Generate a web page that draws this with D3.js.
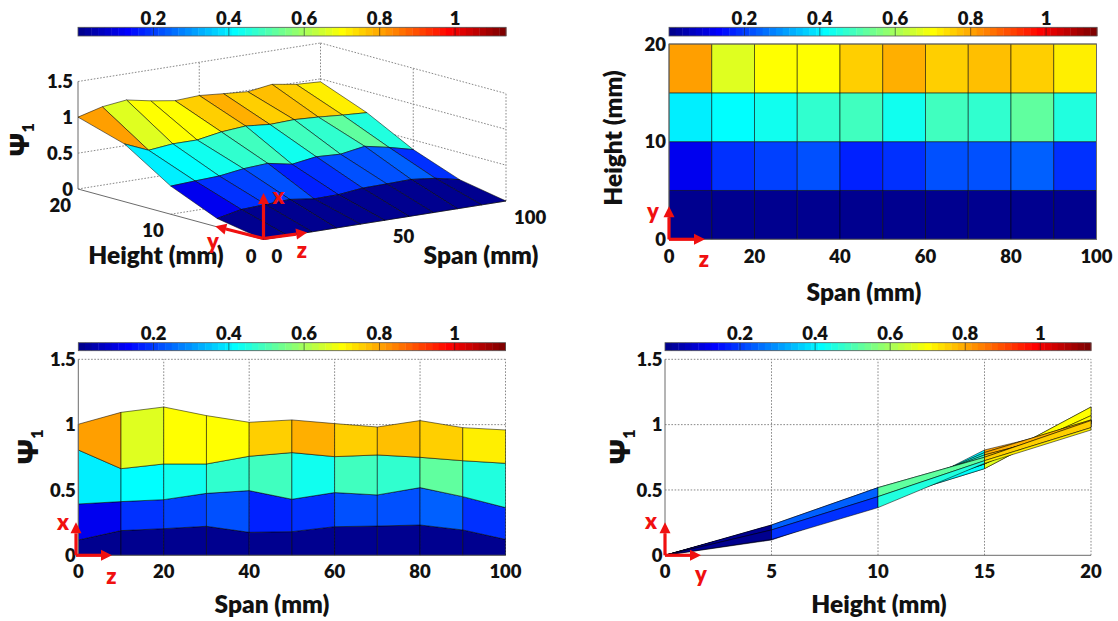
<!DOCTYPE html>
<html>
<head>
<meta charset="utf-8">
<script src="https://cdn.jsdelivr.net/npm/d3@7"></script>
<style>
  html, body { margin: 0; padding: 0; background: #fff; }
  svg text { font-family: Lato, "Open Sans", sans-serif; font-weight: 800; fill: #111; }
</style>
</head>
<body>
<svg id="fig" width="1118" height="621"></svg>
<script>
// ---- data: first mode shape Psi_1 sampled on a span x height grid ----
const spanMM   = [0, 10, 20, 30, 40, 50, 60, 70, 80, 90, 100];
const heightMM = [0, 5, 10, 15, 20];
const psiH0  = [0, 0, 0, 0, 0, 0, 0, 0, 0, 0, 0];
const psiH5  = [0.117, 0.189, 0.204, 0.222, 0.176, 0.181, 0.219, 0.224, 0.232, 0.194, 0.122];
const psiH10 = [0.393, 0.411, 0.426, 0.474, 0.495, 0.429, 0.480, 0.462, 0.518, 0.449, 0.365];
const psiH15 = [0.806, 0.663, 0.699, 0.699, 0.758, 0.786, 0.755, 0.768, 0.750, 0.724, 0.704];
const psiH20 = [1.003, 1.094, 1.135, 1.069, 1.018, 1.036, 1.008, 0.982, 1.031, 0.977, 0.959];

// tick labels
const colorbarTicks   = [0.2, 0.4, 0.6, 0.8, 1];
const psiTicks        = [0, 0.5, 1, 1.5];
const spanTicks2D     = [0, 20, 40, 60, 80, 100];
const heightTicksMap  = [0, 10, 20];
const heightTicksSide = [0, 5, 10, 15, 20];
const spanTicks3D     = [0, 50, 100];
const heightTicks3D   = [0, 10, 20];

const psiRows = [psiH0, psiH5, psiH10, psiH15, psiH20];

const svg = d3.select("#fig");
svg.append("rect").attr("width", 1118).attr("height", 621).attr("fill", "#fff");

// ---- jet(64) colour map with scaled, flat colour mapping ----
function jet64() {
  const m = 64, n = 16;
  const u = [];
  for (let i = 1; i <= n; i++) u.push(i / n);
  for (let i = 0; i < n - 1; i++) u.push(1);
  for (let i = n; i >= 1; i--) u.push(i / n);
  const J = Array.from({length: m}, () => [0, 0, 0]);
  const g0 = Math.ceil(n / 2) - (m % 4 === 1 ? 1 : 0);
  u.forEach((val, i) => {
    const g = g0 + i + 1, r = g + n, b = g - n;
    if (g >= 1 && g <= m) J[g - 1][1] = val;
    if (r >= 1 && r <= m) J[r - 1][0] = val;
    if (b >= 1 && b <= m) J[b - 1][2] = val;
  });
  return J.map(c => d3.rgb(c[0] * 255, c[1] * 255, c[2] * 255).formatHex());
}
const jet = jet64();
const allPsi = psiRows.flat();
const cMin = d3.min(allPsi), cMax = d3.max(allPsi);
function colorOf(v) {
  let k = Math.floor((v - cMin) / (cMax - cMin) * jet.length);
  k = Math.max(0, Math.min(jet.length - 1, k));
  return jet[k];
}

const GRID = "#7a7a7a", AXIS = "#6b6b6b", RED = "#f01010";
const TICK_FS = 18.5, TITLE_FS = 24.5;

// faces of the grid: face (i,j) spans heights i..i+1 and spans j..j+1
const faces = [];
for (let j = 0; j < spanMM.length - 1; j++) {
  for (let i = 0; i < heightMM.length - 1; i++) {
    faces.push({i, j, c: colorOf(psiRows[i][j])});
  }
}

// ---- colour bar ----
function colorbar(x0, x1, y0, hgt) {
  const cx = d3.scaleLinear().domain([cMin, cMax]).range([x0, x1]);
  const g = svg.append("g");
  const step = (cMax - cMin) / jet.length;
  g.selectAll("rect.cell").data(jet).join("rect")
    .attr("x", (c, k) => cx(cMin + k * step))
    .attr("width", (c, k) => cx(cMin + (k + 1) * step) - cx(cMin + k * step) + 0.4)
    .attr("y", y0).attr("height", hgt).attr("fill", c => c);
  g.selectAll("line.tk").data(colorbarTicks).join("line")
    .attr("x1", d => cx(d)).attr("x2", d => cx(d))
    .attr("y1", y0).attr("y2", y0 + hgt)
    .attr("stroke", "#222").attr("stroke-width", 0.8).attr("opacity", 0.7);
  g.append("rect").attr("x", x0).attr("y", y0).attr("width", x1 - x0).attr("height", hgt)
    .attr("fill", "none").attr("stroke", "#555").attr("stroke-width", 0.8);
  g.selectAll("text").data(colorbarTicks).join("text")
    .attr("x", d => cx(d)).attr("y", y0 - 9).attr("dy", "0.36em")
    .attr("text-anchor", "middle").attr("font-size", TICK_FS)
    .text(d => d3.format("~g")(d));
}

// ---- red coordinate-frame arrows ----
function arrow(x1, y1, x2, y2) {
  const L = Math.hypot(x2 - x1, y2 - y1), ux = (x2 - x1) / L, uy = (y2 - y1) / L;
  const hl = 11, hw = 5.5;
  const bx = x2 - ux * hl, by = y2 - uy * hl;
  svg.append("line").attr("x1", x1).attr("y1", y1).attr("x2", bx).attr("y2", by)
    .attr("stroke", RED).attr("stroke-width", 3.2);
  svg.append("path")
    .attr("d", `M${x2},${y2}L${bx - uy * hw},${by + ux * hw}L${bx + uy * hw},${by - ux * hw}Z`)
    .attr("fill", RED);
}
function redLabel(x, y, t) {
  svg.append("text").attr("x", x).attr("y", y).attr("dy", "0.35em")
    .attr("text-anchor", "middle").attr("font-size", 22)
    .style("fill", RED).text(t);
}
function psiLabel(x, y, fs) {
  const t = svg.append("text")
    .attr("transform", `translate(${x},${y}) rotate(-90)`)
    .attr("text-anchor", "middle").attr("dy", "0.35em");
  t.append("tspan").attr("font-size", fs).style("font-family", "'Open Sans', 'DejaVu Sans', sans-serif").text("Ψ");
  t.append("tspan").attr("font-size", 16).attr("dy", 5).text("1");
}
function dotted(sel) {
  return sel.attr("stroke", GRID).attr("stroke-width", 0.9).attr("stroke-dasharray", "1.6,1.6").attr("fill", "none");
}
const edgeStyle = sel => sel.attr("stroke", "#000").attr("stroke-width", 0.7).attr("stroke-opacity", 0.75).attr("stroke-linejoin", "round");

// =================== Panel 1: 3-D surface ===================
{
  const ox = 263.5, oy = 239.5;
  const sDX = d3.scaleLinear().domain([0, 100]).range([0, 242.5]);
  const sDY = d3.scaleLinear().domain([0, 100]).range([0, -38.5]);
  const hDX = d3.scaleLinear().domain([0, 20]).range([0, -185.5]);
  const hDY = d3.scaleLinear().domain([0, 20]).range([0, -50.5]);
  const pDY = d3.scaleLinear().domain([0, 1.5]).range([0, -107.5]);
  const proj = (s, h, p) => [ox + sDX(s) + hDX(h), oy + sDY(s) + hDY(h) + pDY(p)];
  const seg = (a, b) => svg.append("line").attr("x1", a[0]).attr("y1", a[1]).attr("x2", b[0]).attr("y2", b[1]);
  const sMax = d3.max(spanMM), hMax = d3.max(heightMM), pMax = d3.max(psiTicks);

  colorbar(78, 506, 27.3, 8.7);

  // back walls and floor grid
  psiTicks.forEach(p => {
    dotted(seg(proj(0, hMax, p), proj(sMax, hMax, p)));
    dotted(seg(proj(sMax, hMax, p), proj(sMax, 0, p)));
  });
  dotted(seg(proj(50, hMax, 0), proj(50, hMax, pMax)));
  dotted(seg(proj(sMax, hMax, 0), proj(sMax, hMax, pMax)));
  dotted(seg(proj(sMax, 10, 0), proj(sMax, 10, pMax)));
  dotted(seg(proj(sMax, 0, 0), proj(sMax, 0, pMax)));
  dotted(seg(proj(50, 0, 0), proj(50, hMax, 0)));
  dotted(seg(proj(0, 10, 0), proj(sMax, 10, 0)));

  // axis lines
  [[proj(0, hMax, 0), proj(0, hMax, pMax)], [proj(0, hMax, 0), proj(0, 0, 0)], [proj(0, 0, 0), proj(sMax, 0, 0)]]
    .forEach(([a, b]) => seg(a, b).attr("stroke", AXIS).attr("stroke-width", 1));

  // surface, far faces first
  const faces3 = faces.map(f => {
    const pts = [
      proj(spanMM[f.j], heightMM[f.i], psiRows[f.i][f.j]),
      proj(spanMM[f.j + 1], heightMM[f.i], psiRows[f.i][f.j + 1]),
      proj(spanMM[f.j + 1], heightMM[f.i + 1], psiRows[f.i + 1][f.j + 1]),
      proj(spanMM[f.j], heightMM[f.i + 1], psiRows[f.i + 1][f.j])
    ];
    const depth = proj((spanMM[f.j] + spanMM[f.j + 1]) / 2, (heightMM[f.i] + heightMM[f.i + 1]) / 2, 0)[1];
    return {pts, c: f.c, depth};
  }).sort((a, b) => a.depth - b.depth);
  edgeStyle(svg.append("g").selectAll("path").data(faces3).join("path")
    .attr("d", d => "M" + d.pts.join("L") + "Z").attr("fill", d => d.c));

  // tick labels
  svg.append("g").selectAll("text").data(psiTicks).join("text")
    .attr("x", d => proj(0, hMax, d)[0] - 5).attr("y", d => proj(0, hMax, d)[1]).attr("dy", "0.36em")
    .attr("text-anchor", "end").attr("font-size", TICK_FS).text(d => d3.format("~g")(d));
  svg.append("g").selectAll("text").data(heightTicks3D).join("text")
    .attr("x", d => proj(0, d, 0)[0] - 7).attr("y", d => proj(0, d, 0)[1] + 16.5).attr("dy", "0.36em")
    .attr("text-anchor", "end").attr("font-size", TICK_FS).text(d => d);
  svg.append("g").selectAll("text").data(spanTicks3D).join("text")
    .attr("x", d => proj(d, 0, 0)[0] + 8).attr("y", d => proj(d, 0, 0)[1] + 16.5).attr("dy", "0.36em")
    .attr("text-anchor", "start").attr("font-size", TICK_FS).text(d => d);

  svg.append("text").attr("x", 156).attr("y", 255).attr("dy", "0.36em").attr("text-anchor", "middle")
    .attr("font-size", TITLE_FS).text("Height (mm)");
  svg.append("text").attr("x", 481).attr("y", 255).attr("dy", "0.36em").attr("text-anchor", "middle")
    .attr("font-size", TITLE_FS).text("Span (mm)");
  psiLabel(23, 140, 26);

  const o = proj(0, 0, 0);
  arrow(o[0], o[1] - 1, ...proj(0, 0, 0.65));
  arrow(o[0], o[1] - 1, ...proj(18, 0, 0));
  arrow(o[0], o[1] - 1, ...proj(0, 5.2, 0));
  redLabel(278.5, 196, "x");
  redLabel(213, 241, "y");
  redLabel(302, 250, "z");
}

// =================== Panel 2: top view map ===================
{
  const x = d3.scaleLinear().domain([0, 100]).range([669, 1096.5]);
  const y = d3.scaleLinear().domain([0, 20]).range([239.3, 44]);
  colorbar(669, 1097, 27.3, 8.7);

  edgeStyle(svg.append("g").selectAll("rect").data(faces).join("rect")
    .attr("x", f => x(spanMM[f.j])).attr("width", f => x(spanMM[f.j + 1]) - x(spanMM[f.j]))
    .attr("y", f => y(heightMM[f.i + 1])).attr("height", f => y(heightMM[f.i]) - y(heightMM[f.i + 1]))
    .attr("fill", f => f.c));
  svg.append("rect").attr("x", x(0)).attr("y", y(20)).attr("width", x(100) - x(0)).attr("height", y(0) - y(20))
    .attr("fill", "none").attr("stroke", AXIS).attr("stroke-width", 1);

  svg.append("g").selectAll("text").data(spanTicks2D).join("text")
    .attr("x", d => x(d)).attr("y", 256).attr("dy", "0.36em").attr("text-anchor", "middle")
    .attr("font-size", TICK_FS).text(d => d);
  svg.append("g").selectAll("text").data(heightTicksMap).join("text")
    .attr("x", x(0) - 3).attr("y", d => y(d)).attr("dy", "0.36em").attr("text-anchor", "end")
    .attr("font-size", TICK_FS).text(d => d);
  svg.append("text").attr("x", 864).attr("y", 292).attr("dy", "0.36em").attr("text-anchor", "middle")
    .attr("font-size", TITLE_FS).text("Span (mm)");
  svg.append("text").attr("transform", "translate(613,138) rotate(-90)").attr("dy", "0.36em")
    .attr("text-anchor", "middle").attr("font-size", TITLE_FS).text("Height (mm)");

  arrow(x(0), y(0), x(0), y(0) - 33);
  arrow(x(0), y(0), x(0) + 36, y(0));
  redLabel(653, 211, "y");
  redLabel(704, 259, "z");
}

// =================== Panel 3: Psi vs span ===================
{
  const x = d3.scaleLinear().domain([0, 100]).range([78.3, 505.5]);
  const y = d3.scaleLinear().domain([0, 1.5]).range([555.3, 359.3]);
  const seg = (a, b) => svg.append("line").attr("x1", a[0]).attr("y1", a[1]).attr("x2", b[0]).attr("y2", b[1]);
  colorbar(78.3, 505.5, 342.7, 8);

  spanTicks2D.slice(1).forEach(s => dotted(seg([x(s), y(0)], [x(s), y(1.5)])));
  psiTicks.slice(1).forEach(p => dotted(seg([x(0), y(p)], [x(100), y(p)])));

  edgeStyle(svg.append("g").selectAll("path").data(faces).join("path")
    .attr("d", f => "M" + [
      [x(spanMM[f.j]), y(psiRows[f.i][f.j])],
      [x(spanMM[f.j + 1]), y(psiRows[f.i][f.j + 1])],
      [x(spanMM[f.j + 1]), y(psiRows[f.i + 1][f.j + 1])],
      [x(spanMM[f.j]), y(psiRows[f.i + 1][f.j])]
    ].join("L") + "Z")
    .attr("fill", f => f.c));

  seg([x(0), y(0)], [x(0), y(1.5)]).attr("stroke", AXIS);
  seg([x(0), y(0)], [x(100), y(0)]).attr("stroke", AXIS);

  svg.append("g").selectAll("text").data(spanTicks2D).join("text")
    .attr("x", d => x(d)).attr("y", 571).attr("dy", "0.36em").attr("text-anchor", "middle")
    .attr("font-size", TICK_FS).text(d => d);
  svg.append("g").selectAll("text").data(psiTicks).join("text")
    .attr("x", x(0) - 2.5).attr("y", d => y(d)).attr("dy", "0.36em").attr("text-anchor", "end")
    .attr("font-size", TICK_FS).text(d => d3.format("~g")(d));
  svg.append("text").attr("x", 272).attr("y", 604).attr("dy", "0.36em").attr("text-anchor", "middle")
    .attr("font-size", TITLE_FS).text("Span (mm)");
  psiLabel(32, 447, 28);

  arrow(76, y(0), 76, y(0) - 33);
  arrow(76, y(0), 112, y(0));
  redLabel(63, 522, "x");
  redLabel(111.5, 576, "z");
}

// =================== Panel 4: Psi vs height ===================
{
  const x = d3.scaleLinear().domain([0, 20]).range([665, 1091]);
  const y = d3.scaleLinear().domain([0, 1.5]).range([555.3, 359.3]);
  const seg = (a, b) => svg.append("line").attr("x1", a[0]).attr("y1", a[1]).attr("x2", b[0]).attr("y2", b[1]);
  colorbar(665, 1091, 342.7, 8);

  heightTicksSide.slice(1).forEach(h => dotted(seg([x(h), y(0)], [x(h), y(1.5)])));
  psiTicks.slice(1).forEach(p => dotted(seg([x(0), y(p)], [x(20), y(p)])));

  edgeStyle(svg.append("g").selectAll("path").data(faces).join("path")
    .attr("d", f => "M" + [
      [x(heightMM[f.i]), y(psiRows[f.i][f.j])],
      [x(heightMM[f.i]), y(psiRows[f.i][f.j + 1])],
      [x(heightMM[f.i + 1]), y(psiRows[f.i + 1][f.j + 1])],
      [x(heightMM[f.i + 1]), y(psiRows[f.i + 1][f.j])]
    ].join("L") + "Z")
    .attr("fill", f => f.c));

  seg([x(0), y(0)], [x(0), y(1.5)]).attr("stroke", AXIS);
  seg([x(0), y(0)], [x(20), y(0)]).attr("stroke", AXIS);

  svg.append("g").selectAll("text").data(heightTicksSide).join("text")
    .attr("x", d => x(d)).attr("y", 571).attr("dy", "0.36em").attr("text-anchor", "middle")
    .attr("font-size", TICK_FS).text(d => d);
  svg.append("g").selectAll("text").data(psiTicks).join("text")
    .attr("x", x(0) - 2.5).attr("y", d => y(d)).attr("dy", "0.36em").attr("text-anchor", "end")
    .attr("font-size", TICK_FS).text(d => d3.format("~g")(d));
  svg.append("text").attr("x", 879).attr("y", 604).attr("dy", "0.36em").attr("text-anchor", "middle")
    .attr("font-size", TITLE_FS).text("Height (mm)");
  psiLabel(624, 447, 28);

  arrow(x(0), y(0), x(0), y(0) - 33);
  arrow(x(0), y(0), x(0) + 36, y(0));
  redLabel(651, 521, "x");
  redLabel(701, 574, "y");
}
</script>
</body>
</html>
